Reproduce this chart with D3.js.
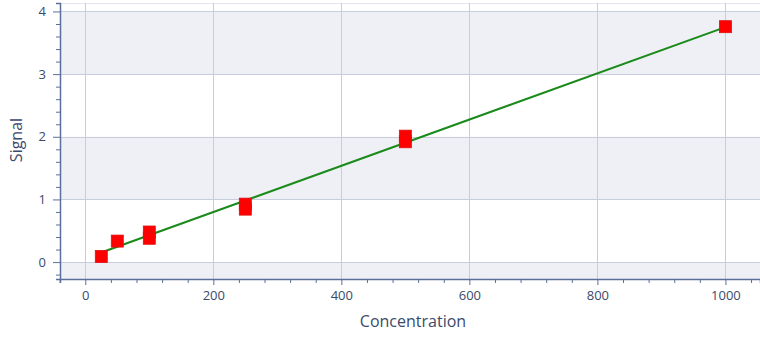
<!DOCTYPE html>
<html>
<head>
<meta charset="utf-8">
<script src="https://cdn.jsdelivr.net/npm/d3@7"></script>
<style>
  body { margin: 0; background: #fff; }
  text { font-family: "Open Sans", "Noto Sans", sans-serif; }
</style>
</head>
<body>
<div id="chart"></div>
<script>
// measured points (concentration, signal)
const concentration = [25, 50, 100, 100, 250, 250, 500, 500, 1000]
const signal = [0.09, 0.335, 0.48, 0.38, 0.925, 0.845, 2.01, 1.92, 3.757]

// fitted line end points
const fitX = [25, 1000]
const fitY = [0.153, 3.75]

const xTicks = [0, 200, 400, 600, 800, 1000]
const yTicks = [0, 1, 2, 3, 4]

const W = 760, H = 338
const margin = {top: 3, right: 0, bottom: 59, left: 60}
const width = W - margin.left - margin.right
const height = H - margin.top - margin.bottom

const axisColor = "#5b6f9b"
const textColor = "#3b4a6b"
const gridColor = "#c6cddd"
const bandColor = "#eff0f5"

const svg = d3.select("#chart")
  .append("svg")
    .attr("width", W)
    .attr("height", H)
  .append("g")
    .attr("transform", `translate(${margin.left}, ${margin.top})`)

const x = d3.scaleLinear().domain([-39.5, 1054]).range([0, width])
const y = d3.scaleLinear().domain([-0.27, 4.135]).range([height, 0])

// alternating bands
const bands = [[-0.27, 0], [1, 2], [3, 4]]
svg.selectAll(".band")
  .data(bands)
  .join("rect")
    .attr("x", 0)
    .attr("width", width)
    .attr("y", d => y(d[1]))
    .attr("height", d => y(d[0]) - y(d[1]))
    .attr("fill", bandColor)

// top border
svg.append("line")
  .attr("x1", 0).attr("x2", width)
  .attr("y1", 0.5).attr("y2", 0.5)
  .attr("stroke", "#e3e6ee")

// grid
svg.selectAll(".vgrid")
  .data(xTicks)
  .join("line")
    .attr("x1", d => Math.round(x(d)) + 0.5)
    .attr("x2", d => Math.round(x(d)) + 0.5)
    .attr("y1", 0).attr("y2", height)
    .attr("stroke", gridColor)
svg.selectAll(".hgrid")
  .data(yTicks)
  .join("line")
    .attr("y1", d => Math.round(y(d)) + 0.5)
    .attr("y2", d => Math.round(y(d)) + 0.5)
    .attr("x1", 0).attr("x2", width)
    .attr("stroke", gridColor)

// x axis
const xMinor = d3.range(-40, 1061, 40).filter(v => v % 200 !== 0)
const xAxisG = svg.append("g").attr("transform", `translate(0, ${height})`)
xAxisG.call(d3.axisBottom(x).tickValues(xMinor).tickSize(4).tickFormat(""))
xAxisG.call(g => g.selectAll(".tick line").attr("stroke", axisColor))
const xMajorG = svg.append("g").attr("transform", `translate(0, ${height})`)
  .call(d3.axisBottom(x).tickValues(xTicks).tickSize(6).tickPadding(6).tickFormat(d3.format("d")))
xMajorG.select(".domain").remove()
xAxisG.select(".domain").attr("stroke", axisColor).attr("stroke-width", 1.5)
xMajorG.selectAll(".tick line").attr("stroke", axisColor)
xMajorG.selectAll(".tick text")
  .attr("fill", textColor)
  .style("font-size", "13px")

// y axis
const yMinor = d3.range(-0.2, 4.13, 0.2).filter(v => Math.abs(v - Math.round(v)) > 0.01)
const yAxisG = svg.append("g")
yAxisG.call(d3.axisLeft(y).tickValues(yMinor).tickSize(4).tickFormat(""))
yAxisG.selectAll(".tick line").attr("stroke", axisColor)
yAxisG.select(".domain").attr("stroke", axisColor).attr("stroke-width", 1.5)
const yMajorG = svg.append("g")
  .call(d3.axisLeft(y).tickValues(yTicks).tickSize(7).tickPadding(7).tickFormat(d3.format("d")))
yMajorG.select(".domain").remove()
yMajorG.selectAll(".tick line").attr("stroke", axisColor)
yMajorG.selectAll(".tick text")
  .attr("fill", textColor)
  .style("font-size", "13px")

// fitted line
const line = d3.line().x(d => x(d[0])).y(d => y(d[1]))
svg.append("path")
  .datum(d3.zip(fitX, fitY))
  .attr("d", line)
  .attr("fill", "none")
  .attr("stroke", "#1a8a1a")
  .attr("stroke-width", 2)

// points
const sz = 12
svg.selectAll(".pt")
  .data(d3.zip(concentration, signal))
  .join("rect")
    .attr("x", d => x(d[0]) - sz / 2)
    .attr("y", d => y(d[1]) - sz / 2)
    .attr("width", sz)
    .attr("height", sz)
    .attr("fill", "#ff0000")
    .attr("stroke", "#e01010")
    .attr("stroke-width", 0.8)

// axis titles
svg.append("text")
  .attr("x", 413 - margin.left)
  .attr("y", 327 - margin.top)
  .attr("text-anchor", "middle")
  .attr("fill", textColor)
  .style("font-size", "16px")
  .text("Concentration")

svg.append("text")
  .attr("transform", `translate(${22 - margin.left}, ${140 - margin.top}) rotate(-90)`)
  .attr("text-anchor", "middle")
  .attr("fill", textColor)
  .style("font-size", "16px")
  .text("Signal")
</script>
</body>
</html>
